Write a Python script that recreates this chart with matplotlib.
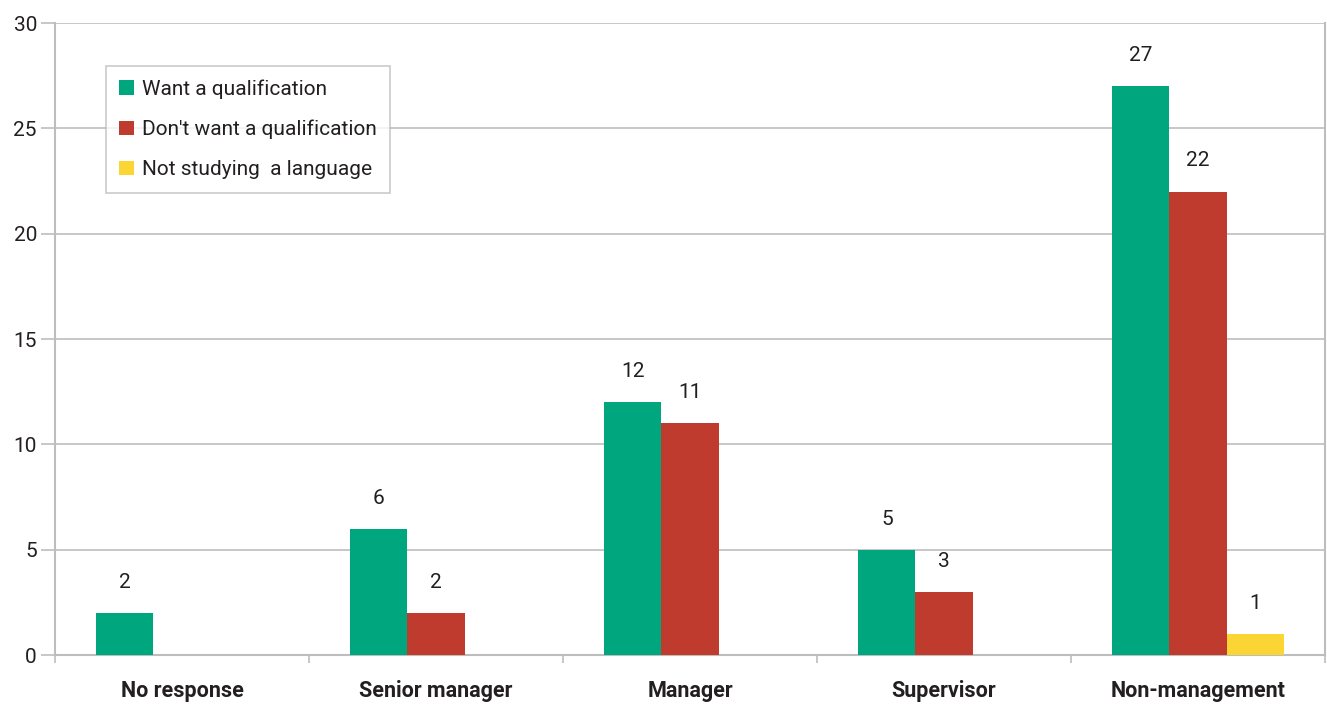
import numpy as np
import matplotlib
matplotlib.use('Agg')
import matplotlib.pyplot as plt

# Data
categories = ['No response', 'Senior manager', 'Manager', 'Supervisor', 'Non-management']
want = [2, 6, 12, 5, 27]
dont_want = [0, 2, 11, 3, 22]
not_studying = [0, 0, 0, 0, 1]
series_names = ['Want a qualification', "Don't want a qualification", 'Not studying  a language']
colors = ['#00A67E', '#BE3B2E', '#FBD533']

plt.rcParams['font.family'] = ['Roboto', 'DejaVu Sans']

fig = plt.figure(figsize=(13.27, 7.04), dpi=100)
ax = fig.add_axes([0.0414, 0.0696, 0.9571, 0.8977])

x = np.arange(len(categories))
width = 0.225
grey = '#BDBDBD'
ink = '#231F20'

for i, (vals, name, c) in enumerate(zip([want, dont_want, not_studying], series_names, colors)):
    pos = x + (i - 1) * width
    ax.bar(pos, vals, width, color=c, label=name, zorder=3)
    for p, v in zip(pos, vals):
        if v > 0:
            ax.text(p, v + 1.0, str(v), ha='center', va='bottom', fontsize=15, color=ink)

ax.set_xlim(-0.5, len(categories) - 0.5)
ax.set_ylim(0, 30)
ax.set_yticks(range(0, 31, 5))
ax.tick_params(axis='y', labelsize=15, colors=grey, labelcolor=ink, length=10, width=1.2, pad=3)
ax.grid(True, axis='y', color=grey, linewidth=1.2, zorder=0)

ax.set_xticks(x)
ax.set_xticklabels(categories, fontsize=15.5, fontweight='bold', color=ink)
ax.tick_params(axis='x', length=0, pad=18)
ax.set_xticks(np.arange(-0.5, len(categories)), minor=True)
ax.tick_params(axis='x', which='minor', length=6, width=1.2, colors=grey, direction='out')

for s in ['left', 'right', 'bottom']:
    ax.spines[s].set_color(grey)
    ax.spines[s].set_linewidth(1.5)
ax.spines['top'].set_visible(False)

leg = ax.legend(loc='upper left', bbox_to_anchor=(0.040, 0.932), borderaxespad=0, fontsize=15,
                frameon=True, fancybox=False, edgecolor=grey, handlelength=0.7, handleheight=0.7,
                handletextpad=0.4, borderpad=0.65, labelspacing=1.0)
leg.get_frame().set_linewidth(1.2)
for t in leg.get_texts():
    t.set_color(ink)

fig.savefig('out.png', dpi=100, facecolor='white')
